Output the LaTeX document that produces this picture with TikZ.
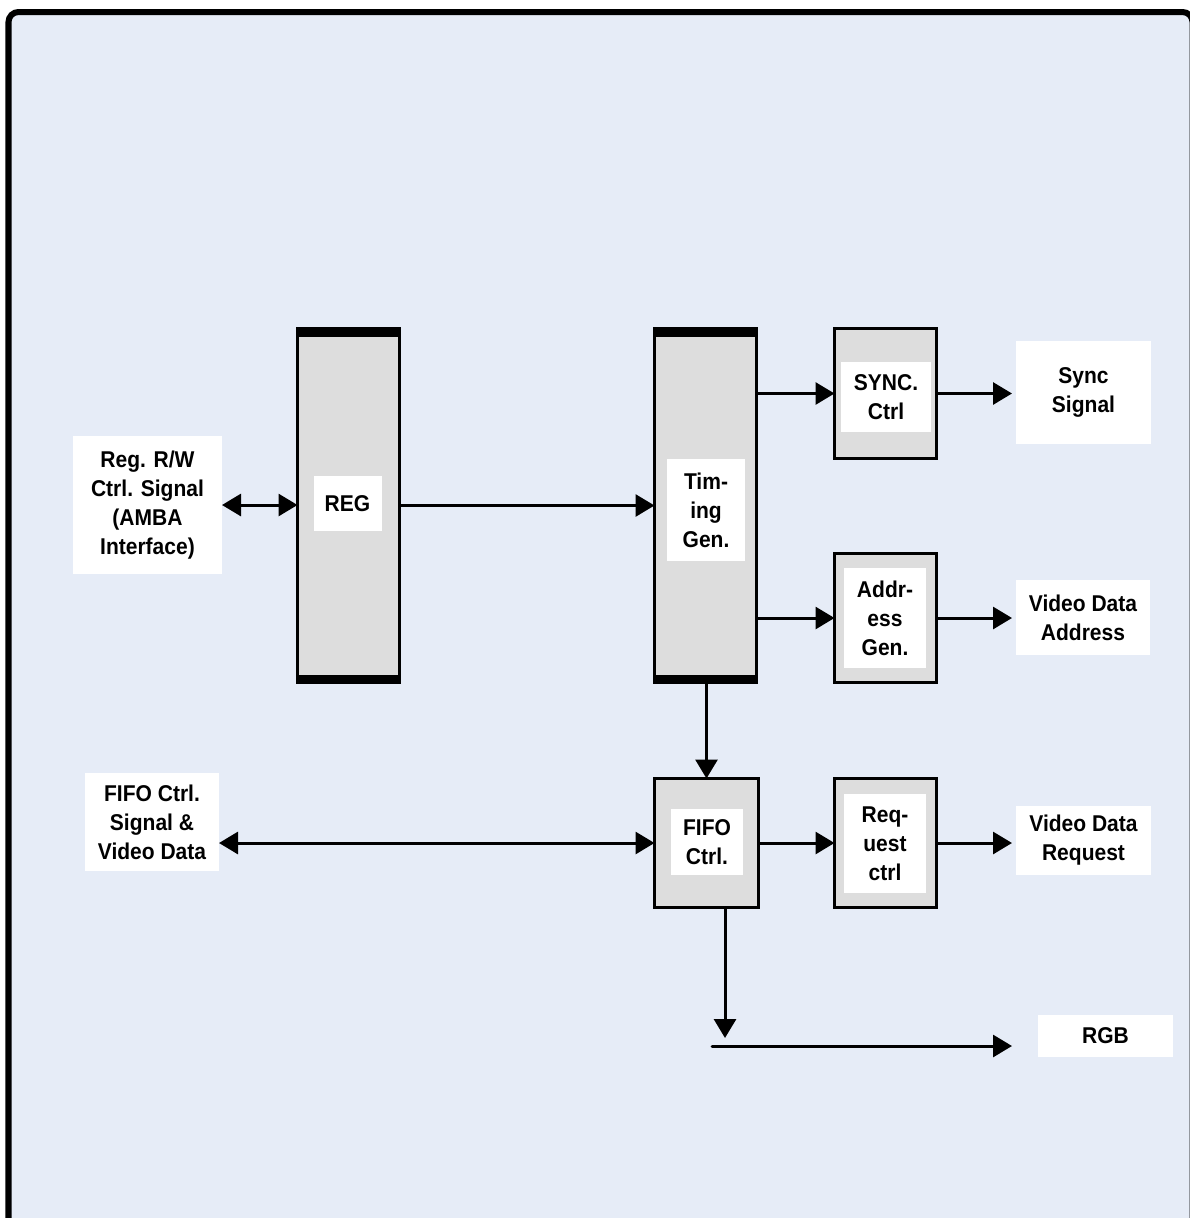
\documentclass[tikz,border=0pt]{standalone}
\usepackage{fontspec}
\setmainfont{Liberation Sans}[FakeStretch=0.92]
\usetikzlibrary{arrows.meta}
\definecolor{paper}{RGB}{230,236,247}
\definecolor{blockgray}{RGB}{221,221,221}
\definecolor{ink}{RGB}{0,0,0}

\begin{document}
\begin{tikzpicture}[x=0.2mm,y=-0.2mm,
  every node/.style={font=\fontsize{13}{16.5}\selectfont\bfseries,inner sep=0pt,outer sep=0pt},
  block/.style={draw=ink,line width=0.6mm,fill=blockgray,minimum width=20.4mm},
  tag/.style={fill=white,align=center},
  arrow/.style={-{Triangle[length=3.8mm,width=4.4mm]},line width=0.6mm,draw=ink},
  both/.style={{Triangle[length=3.8mm,width=4.4mm]}-{Triangle[length=3.8mm,width=4.4mm]},line width=0.6mm,draw=ink}
]
\useasboundingbox[fill=white] (0,0) rectangle (1189,1218);
% frame
\fill[paper] (8.5,12) rectangle (1192,1240);
\draw[ink,line width=1.2mm,rounded corners=2mm] (8.5,1240) -- (8.5,12) -- (1192.5,12) -- (1192.5,1240);

% tall blocks
\node[block,minimum height=70.8mm] (reg) at (348.5,505.5) {};
\node[tag,minimum width=13.6mm,minimum height=11mm] (reglbl) at (347.5,503.5) {REG};
\node[block,minimum height=70.8mm] (timing) at (705.5,505.5) {};
\node[tag,minimum width=15.6mm,minimum height=20.4mm] (timinglbl) at (706,510) {Tim-\\ing\\Gen.};
\foreach \n in {reg,timing} {
  \fill[ink] ([xshift=-0.3mm,yshift=0.3mm]\n.north west) rectangle ([xshift=0.3mm,yshift=-1.6mm]\n.north east);
  \fill[ink] ([xshift=-0.3mm,yshift=-0.3mm]\n.south west) rectangle ([xshift=0.3mm,yshift=1.6mm]\n.south east);
}

% small blocks
\node[block,minimum height=26mm] (sync) at (885.5,393.5) {};
\node[tag,minimum width=18mm,minimum height=14mm] (synclbl) at (886,397) {SYNC.\\Ctrl};
\node[block,minimum height=25.8mm] (addr) at (885.5,618) {};
\node[tag,minimum width=16.4mm,minimum height=20mm] (addrlbl) at (885,618) {Addr-\\ess\\Gen.};
\node[block,minimum width=20.8mm,minimum height=25.8mm] (fifo) at (706.5,843) {};
\node[tag,minimum width=14.4mm,minimum height=13.2mm] (fifolbl) at (707,842) {FIFO\\Ctrl.};
\node[block,minimum height=25.8mm] (req) at (885.5,843) {};
\node[tag,minimum width=16.4mm,minimum height=19.8mm] (reqlbl) at (885,843.5) {Req-\\uest\\ctrl};

% signals
\node[tag,minimum width=29.8mm,minimum height=27.6mm] (regsig) at (147.5,505) {Reg. R/W\\Ctrl. Signal\\(AMBA\\Interface)};
\node[tag,minimum width=26.8mm,minimum height=19.6mm] (fifosig) at (152,822) {FIFO Ctrl.\\Signal \&\\Video Data};
\node[tag,minimum width=27mm,minimum height=20.6mm] (syncsig) at (1083.5,392.5) {Sync\\Signal};
\node[tag,minimum width=26.8mm,minimum height=15mm] (vdaddr) at (1083,617.5) {Video Data\\Address};
\node[tag,minimum width=27mm,minimum height=13.8mm] (vdreq) at (1083.5,840.5) {Video Data\\Request};
\node[tag,minimum width=27mm,minimum height=8.4mm] (rgb) at (1105.5,1036) {RGB};

% connectors
\draw[both] (regsig.east) -- (regsig.east -| reg.west);
\draw[arrow] (reg.east) -- (reg.east -| timing.west);
\draw[arrow] (timing.east |- sync) -- (sync.west);
\draw[arrow] (timing.east |- addr) -- (addr.west);
\draw[arrow,shorten >=0.8mm] (sync.east) -- (sync.east -| syncsig.west);
\draw[arrow,shorten >=0.8mm] (addr.east) -- (addr.east -| vdaddr.west);
\draw[arrow] (timing.south -| fifo) -- (fifo.north);
\draw[both] (fifosig.east |- fifo) -- (fifo.west);
\draw[arrow] (fifo.east) -- (req.west);
\draw[arrow,shorten >=0.8mm] (req.east) -- (req.east -| vdreq.west);
\coordinate (tap) at (725,1038);
\coordinate (bus) at (712,1046);
\coordinate (busend) at (1012,1046);
\draw[arrow] (tap |- fifo.south) -- (tap);
\draw[arrow,line cap=round] (bus) -- (busend);
\end{tikzpicture}
\end{document}
